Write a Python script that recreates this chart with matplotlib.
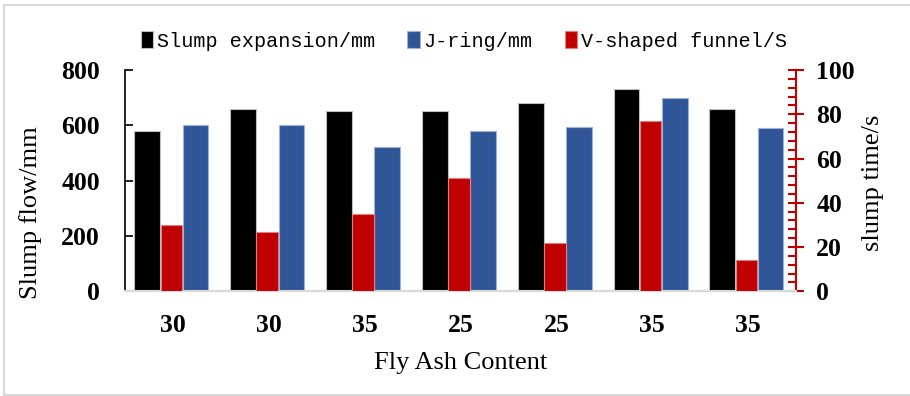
import matplotlib.pyplot as plt
from matplotlib.ticker import MultipleLocator
from matplotlib.lines import Line2D
import numpy as np

# data
fly_ash = ["30", "30", "35", "25", "25", "35", "35"]
slump_expansion = [580, 660, 650, 650, 680, 730, 660]
j_ring = [600, 600, 523, 580, 595, 700, 590]
v_funnel = [30, 27, 35, 51, 22, 77, 14]

BLACK = "#000000"
BLUE = "#2F5597"
RED = "#C00000"
serif = ["Liberation Serif", "DejaVu Serif"]

fig = plt.figure(figsize=(9.1, 3.96), dpi=100)
ax = fig.add_axes([125 / 910, 1 - 291.3 / 396, 671 / 910, 221.3 / 396])
ax2 = ax.twinx()

x = np.arange(len(fly_ash))
b1 = ax.bar(x - 0.268, slump_expansion, width=0.27, color=BLACK,
            edgecolor="#bfbfbf", linewidth=0.8, zorder=3)
b2 = ax.bar(x + 0.235, j_ring, width=0.267, color=BLUE,
            edgecolor="#9fb3d9", linewidth=0.8, zorder=3)
b3 = ax2.bar(x - 0.017, v_funnel, width=0.225, color=RED,
             edgecolor="#e08080", linewidth=0.8, zorder=3)

ax.set_xlim(-0.5, len(fly_ash) - 0.5)
ax.set_ylim(0, 800)
ax2.set_ylim(0, 100)

ax.set_xticks(x)
ax.set_xticklabels(fly_ash)
ax.yaxis.set_major_locator(MultipleLocator(200))
ax2.yaxis.set_major_locator(MultipleLocator(20))
ax2.yaxis.set_minor_locator(MultipleLocator(4))

for a in (ax, ax2):
    a.spines["top"].set_visible(False)
    a.spines["bottom"].set_color("#d9d9d9")
    a.spines["bottom"].set_linewidth(1.5)
ax.spines["right"].set_visible(False)
ax2.spines["left"].set_visible(False)
ax.spines["left"].set_linewidth(1.2)
ax2.spines["right"].set_color(RED)
ax2.spines["right"].set_linewidth(1.5)

ax.tick_params(axis="x", length=0, pad=16)
ax.tick_params(axis="y", direction="in", length=6, width=1.2, pad=18)
ax2.tick_params(axis="y", which="major", direction="inout", length=11,
                width=1.5, color=RED, pad=9)
ax2.tick_params(axis="y", which="minor", direction="in", length=6,
                width=1.5, color=RED)

for lab in ax.get_xticklabels() + ax.get_yticklabels() + ax2.get_yticklabels():
    lab.set_fontfamily(serif)
    lab.set_fontweight("bold")
    lab.set_fontsize(18.5)

ax.set_xlabel("Fly Ash Content", fontfamily=serif, fontsize=19, labelpad=11)
ax.set_ylabel("Slump flow/mm", fontfamily=serif, fontsize=19)
ax.yaxis.set_label_coords(-0.1237, 0.354)
ax2.set_ylabel("slump time/s", fontfamily=serif, fontsize=19, rotation=90)
ax2.yaxis.set_label_coords(1.098, 0.49)

fig.legend([b1, b2, b3], ["Slump expansion/mm", "J-ring/mm", "V-shaped funnel/S"],
           loc="center", bbox_to_anchor=(464 / 910, 1 - 41 / 396), ncol=3,
           frameon=False, prop={"family": ["Liberation Mono", "DejaVu Sans Mono"], "size": 14.5},
           handlelength=0.6, handleheight=0.9, handletextpad=0.2, columnspacing=1.6)

# light grey frame around the chart
fr = dict(color="#d9d9d9", linewidth=1.5, transform=fig.transFigure)
fig.add_artist(Line2D([4 / 910, 909 / 910], [1 - 4.5 / 396, 1 - 4.5 / 396], **fr))
fig.add_artist(Line2D([4 / 910, 4 / 910], [1 - 4.5 / 396, 1 - 395 / 396], **fr))
fig.add_artist(Line2D([4 / 910, 909 / 910], [1 - 395 / 396, 1 - 395 / 396], **fr))

fig.savefig("out.png", dpi=100)
